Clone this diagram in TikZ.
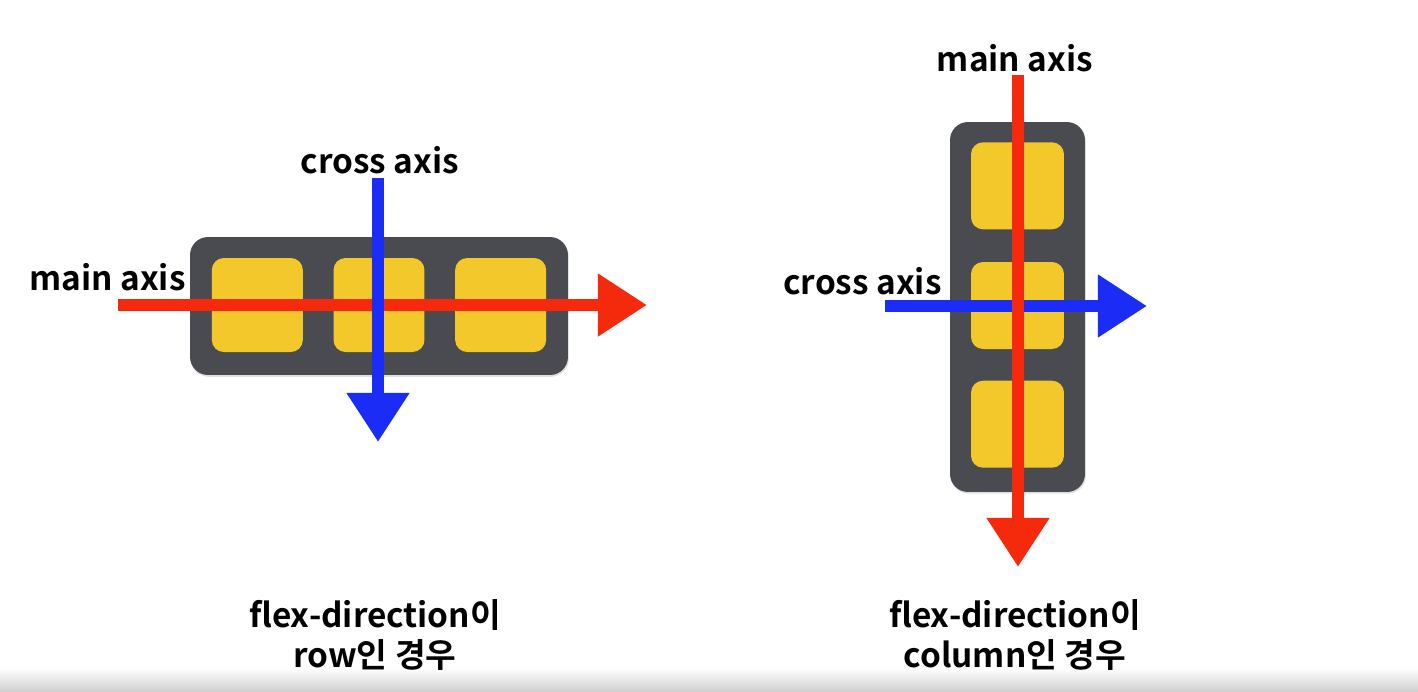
\documentclass[tikz,border=0pt]{standalone}
\usepackage{fontspec}
\setmainfont{Noto Sans CJK KR}[BoldFont={Noto Sans CJK KR Bold}]
\usetikzlibrary{arrows.meta,positioning,shadows}
\definecolor{boxgray}{HTML}{4A4B51}
\definecolor{itemyellow}{HTML}{F2C82A}
\definecolor{axisred}{HTML}{F52A0C}
\definecolor{axisblue}{HTML}{1A2CF5}

\begin{document}
\begin{tikzpicture}[x=0.02cm,y=-0.02cm,
  container/.style={fill=boxgray, rounded corners=0.36cm, inner sep=0pt, drop shadow={opacity=0.25,shadow xshift=0.5pt,shadow yshift=-1pt}},
  item/.style={fill=itemyellow, rounded corners=0.24cm, minimum width=1.82cm, minimum height=1.88cm, inner sep=0pt},
  mainarrow/.style={draw=axisred, line width=7pt, -{Triangle[length=28pt,width=34pt]}},
  crossarrow/.style={draw=axisblue, line width=7pt, -{Triangle[length=28pt,width=34pt]}},
  lbl/.style={font=\bfseries\fontsize{19}{22.5}\selectfont, inner sep=0pt},
  caption/.style={lbl, align=center}]

\useasboundingbox (0,0) rectangle (1418,691);
\fill[white] (0,0) rectangle (1418,691);
\shade[top color=white, bottom color=black!18] (0,668) rectangle (1418,691);

% flex-direction: row
\node[container, minimum width=7.56cm, minimum height=2.76cm] (rowbox) at (379,306) {};
\node[item] (rowitemb) at (379,305) {};
\node[item, left=0.6cm of rowitemb] (rowitema) {};
\node[item, right=0.6cm of rowitemb] (rowitemc) {};

\node[lbl, anchor=east] (rowmainlabel) at (186,277) {main axis};
\node[lbl] (rowcrosslabel) at (380,160) {cross axis};
\coordinate (rowmainstart) at (118,305);
\coordinate (rowmainend) at (647,305);
\coordinate (rowcrossstart) at (378,178);
\coordinate (rowcrossend) at (378,442);
\draw[mainarrow] (rowmainstart) -- (rowmainend);
\draw[crossarrow] (rowcrossstart) -- (rowcrossend);

\node[caption] (rowcaption) at (375,635) {flex-direction이\\row인 경우};

% flex-direction: column
\node[container, minimum width=2.7cm, minimum height=7.4cm] (colbox) at (1017.5,307) {};
\node[item, minimum width=1.86cm, minimum height=1.74cm] (colitemb) at (1017.5,305.5) {};
\node[item, minimum width=1.86cm, minimum height=1.74cm, above=0.64cm of colitemb] (colitema) {};
\node[item, minimum width=1.86cm, minimum height=1.74cm, below=0.62cm of colitemb] (colitemc) {};

\node[lbl] (colmainlabel) at (1015,58) {main axis};
\node[lbl, anchor=east] (colcrosslabel) at (942,281) {cross axis};
\coordinate (colcrossstart) at (885,306);
\coordinate (colcrossend) at (1147,306);
\coordinate (colmainstart) at (1018,75);
\coordinate (colmainend) at (1018,567);
\draw[crossarrow] (colcrossstart) -- (colcrossend);
\draw[mainarrow] (colmainstart) -- (colmainend);

\node[caption] (colcaption) at (1015,635) {flex-direction이\\column인 경우};

\end{tikzpicture}
\end{document}
